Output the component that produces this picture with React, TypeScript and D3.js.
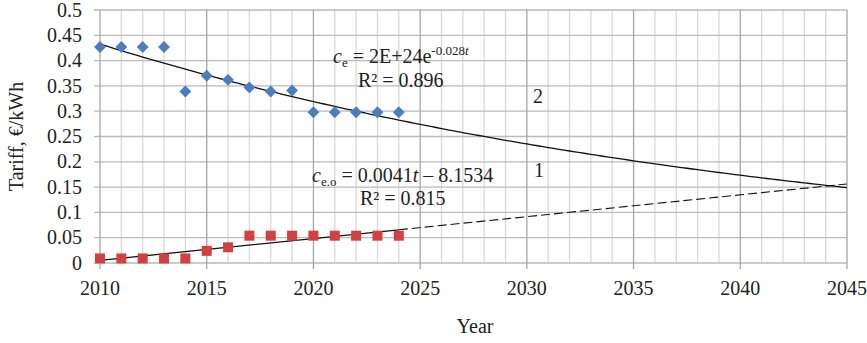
import React from 'react';
import * as d3 from 'd3';

const W = 867;
const H = 343;
const FONT = '"Liberation Serif", "Times New Roman", serif';
const FS = 20;

const years = [2010, 2011, 2012, 2013, 2014, 2015, 2016, 2017, 2018, 2019, 2020, 2021, 2022, 2023, 2024];
const tariffGrid = [0.427, 0.427, 0.427, 0.427, 0.339, 0.370, 0.362, 0.347, 0.339, 0.341, 0.298, 0.298, 0.298, 0.298, 0.298];
const tariffOwn = [0.009, 0.009, 0.009, 0.009, 0.009, 0.024, 0.031, 0.054, 0.054, 0.054, 0.054, 0.054, 0.054, 0.054, 0.054];

const yTicks = [0, 0.05, 0.1, 0.15, 0.2, 0.25, 0.3, 0.35, 0.4, 0.45, 0.5];
const xTicks = [2010, 2015, 2020, 2025, 2030, 2035, 2040, 2045];

const margin = { top: 10, right: 20, bottom: 80, left: 100 };

// least squares, like Excel's trendline
function linFit(xs: number[], ys: number[]) {
  const mx = d3.mean(xs)!;
  const my = d3.mean(ys)!;
  let num = 0, den = 0;
  xs.forEach((x, i) => { num += (x - mx) * (ys[i] - my); den += (x - mx) ** 2; });
  const b = num / den;
  return { b, a: my - b * mx };
}

export default function App() {
  const x = d3.scaleLinear().domain([2010, 2045]).range([margin.left, W - margin.right]);
  const y = d3.scaleLinear().domain([0, 0.5]).range([H - margin.bottom, margin.top]);

  const expFit = linFit(years, tariffGrid.map(v => Math.log(v)));
  const lin = linFit(years, tariffOwn);

  const curveYears = d3.range(2010, 2045.01, 0.25);
  const expLine = d3.line<number>().x(t => x(t)).y(t => y(Math.exp(expFit.a + expFit.b * t)));
  const linLine = d3.line<number>().x(t => x(t)).y(t => y(lin.a + lin.b * t));

  const allYears = d3.range(2010, 2046);

  return (
    <svg width={W} height={H} style={{ position: 'absolute', left: 0, top: 0, background: '#fff' }} fontFamily={FONT}>
      {/* minor vertical grid */}
      {allYears.filter(t => t % 5 !== 0).map(t => (
        <line key={'mv' + t} x1={x(t)} x2={x(t)} y1={y(0.5)} y2={y(0)} stroke="#d9d9d9" strokeWidth={1.3} />
      ))}
      {/* horizontal grid */}
      {yTicks.map(v => (
        <line key={'h' + v} x1={x(2010) - 6} x2={x(2045)} y1={y(v)} y2={y(v)} stroke="#bababa" strokeWidth={1.3} />
      ))}
      {/* major vertical grid */}
      {xTicks.map(t => (
        <line key={'Mv' + t} x1={x(t)} x2={x(t)} y1={y(0.5)} y2={y(0) + 6} stroke="#a6a6a6" strokeWidth={1.3} />
      ))}

      {/* y tick labels */}
      {yTicks.map(v => (
        <text key={'yl' + v} x={x(2010) - 18} y={y(v)} dy="0.33em" textAnchor="end" fontSize={FS} fill="#222">{String(v)}</text>
      ))}
      {/* x tick labels */}
      {xTicks.map(t => (
        <text key={'xl' + t} x={x(t)} y={295} textAnchor="middle" fontSize={FS} fill="#222">{t}</text>
      ))}

      <text x={475} y={333} textAnchor="middle" fontSize={FS} fill="#222">Year</text>
      <text transform={`translate(23,${(y(0) + y(0.5)) / 2}) rotate(-90)`} textAnchor="middle" fontSize={FS} fill="#222">Tariff, €/kWh</text>

      {/* trend lines */}
      <path d={expLine(curveYears)!} fill="none" stroke="#111" strokeWidth={1.3} />
      <path d={linLine([2010, 2024])!} fill="none" stroke="#111" strokeWidth={1.3} />
      <path d={linLine([2024, 2045])!} fill="none" stroke="#111" strokeWidth={1.1} strokeDasharray="9,4" />

      {/* markers */}
      {years.map((t, i) => (
        <rect key={'d' + t} x={-4.2} y={-4.2} width={8.4} height={8.4}
          transform={`translate(${x(t)},${y(tariffGrid[i])}) rotate(45)`} fill="#4a7ec2" />
      ))}
      {years.map((t, i) => (
        <rect key={'s' + t} x={x(t) - 5} y={y(tariffOwn[i]) - 5} width={10} height={10} fill="#d43f3f" />
      ))}

      {/* equations */}
      <text x={333} y={63} fontSize={FS} fill="#222">
        <tspan fontStyle="italic">c</tspan>
        <tspan fontSize={13} dy={4}>e</tspan>
        <tspan dy={-4}> = 2E+24e</tspan>
        <tspan fontSize={13} dy={-8}>-0.028</tspan>
        <tspan fontSize={13} fontStyle="italic">t</tspan>
      </text>
      <text x={358} y={87} fontSize={FS} fill="#222">R² = 0.896</text>
      <text x={312} y={182} fontSize={FS} fill="#222">
        <tspan fontStyle="italic">c</tspan>
        <tspan fontSize={13} dy={4}>e.o</tspan>
        <tspan dy={-4}> = 0.0041</tspan>
        <tspan fontStyle="italic">t</tspan>
        <tspan> – 8.1534</tspan>
      </text>
      <text x={360} y={205} fontSize={FS} fill="#222">R² = 0.815</text>

      <text x={538} y={103} textAnchor="middle" fontSize={FS} fill="#222">2</text>
      <text x={539} y={177} textAnchor="middle" fontSize={FS} fill="#222">1</text>
    </svg>
  );
}
